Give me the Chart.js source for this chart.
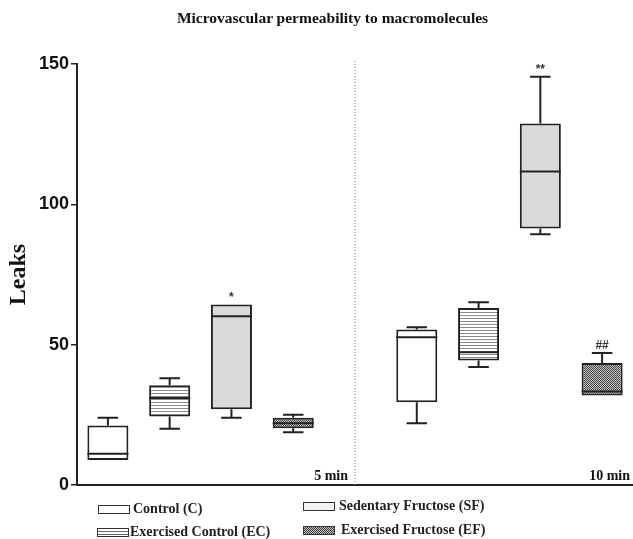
<!DOCTYPE html>
<html>
<head>
<meta charset="utf-8">
<script src="https://cdn.jsdelivr.net/npm/chart.js@4.4.0/dist/chart.umd.min.js"></script>
<style>
  html, body { margin: 0; padding: 0; background: #fff; }
  #wrap { position: relative; width: 633px; height: 539px; }
  #wrap canvas { position: absolute; left: 0; top: 0; }
  .title { position: absolute; left: 0; top: 9px; width: 665px; text-align: center;
           font: bold 15.5px 'Liberation Serif', 'Times New Roman', serif; color: #111; }
  .leg { position: absolute; display: flex; align-items: center; white-space: nowrap;
         font: bold 14px 'Liberation Serif', 'Times New Roman', serif; color: #222; height: 16px; }
  .sw { display: inline-block; width: 30px; height: 7px; border: 1px solid #333; box-sizing: content-box; }
</style>
</head>
<body>
<div id="wrap">
  <canvas id="chart" width="633" height="539"></canvas>
  <div class="title">Microvascular permeability to macromolecules</div>
  <div id="legend"></div>
</div>
<script>
// groups: 5 min, 10 min
const groups = ['5 min', '10 min'];
const categories = ['C 5', 'EC 5', 'SF 5', 'EF 5', '', 'C 10', 'EC 10', 'SF 10', 'EF 10'];
const yTicks = [0, 50, 100, 150];

// Control (C)
const cMin = [8.9, 22.0];
const cQ1 = [8.9, 29.5];
const cMed = [11.1, 52.6];
const cQ3 = [21.2, 55.4];
const cMax = [24.0, 56.2];

// Exercised Control (EC)
const ecMin = [20.0, 42.0];
const ecQ1 = [24.4, 44.4];
const ecMed = [31.0, 47.3];
const ecQ3 = [35.5, 63.1];
const ecMax = [38.0, 65.1];

// Sedentary Fructose (SF)
const sfMin = [24.0, 89.3];
const sfQ1 = [27.0, 91.4];
const sfMed = [60.1, 111.7];
const sfQ3 = [64.3, 128.8];
const sfMax = [64.3, 145.5];
const sfMarks = ['*', '**'];

// Exercised Fructose (EF)
const efMin = [18.8, 31.9];
const efQ1 = [20.2, 31.9];
const efMed = [22.0, 33.3];
const efQ3 = [24.0, 43.5];
const efMax = [25.0, 47.0];
const efMarks = ['', '##'];

// series s in group g sits in slot g*5 + s (slot 4 is the gap)
function expand(arr, s) {
  const out = categories.map(() => null);
  arr.forEach((v, g) => { out[g * 5 + s] = v; });
  return out;
}
function floating(q1, q3, s) {
  const out = categories.map(() => null);
  q1.forEach((v, g) => { out[g * 5 + s] = [v, q3[g]]; });
  return out;
}

function makePattern(w, h, draw) {
  const c = document.createElement('canvas');
  c.width = w; c.height = h;
  const g = c.getContext('2d');
  draw(g);
  return g.createPattern(c, 'repeat');
}
const stripes = makePattern(4, 3, g => {
  g.fillStyle = '#fff'; g.fillRect(0, 0, 4, 3);
  g.fillStyle = '#8a8a8a'; g.fillRect(0, 0, 4, 1);
});
const dots = makePattern(2, 2, g => {
  g.fillStyle = '#c0c0c0'; g.fillRect(0, 0, 2, 2);
  g.fillStyle = '#4a4a4a'; g.fillRect(0, 0, 1, 1); g.fillRect(1, 1, 1, 1);
});

function series(label, s, fill, mn, q1, med, q3, mx, marks) {
  return {
    label: label,
    data: floating(q1, q3, s),
    backgroundColor: fill,
    borderColor: '#222',
    borderWidth: 2,
    borderSkipped: false,
    grouped: false,
    barPercentage: 0.664,
    categoryPercentage: 1,
    box: {
      min: expand(mn, s),
      med: expand(med, s),
      max: expand(mx, s),
      marks: marks ? expand(marks, s) : null
    }
  };
}

// whiskers, medians, marks, separator and group labels
const boxExtras = {
  id: 'boxExtras',
  afterDatasetsDraw(chart) {
    const { ctx, chartArea, scales: { x, y } } = chart;
    ctx.save();
    ctx.strokeStyle = '#222';
    ctx.lineWidth = 2;
    chart.data.datasets.forEach((ds, di) => {
      const meta = chart.getDatasetMeta(di);
      meta.data.forEach((bar, i) => {
        const r = ds.data[i];
        if (!r) return;
        const half = bar.width / 2;
        const cap = half / 2;
        const yMed = y.getPixelForValue(ds.box.med[i]);
        const yQ1 = y.getPixelForValue(r[0]);
        const yQ3 = y.getPixelForValue(r[1]);
        const yMin = y.getPixelForValue(ds.box.min[i]);
        const yMax = y.getPixelForValue(ds.box.max[i]);
        ctx.beginPath();
        ctx.moveTo(bar.x - half, yMed); ctx.lineTo(bar.x + half, yMed);
        if (yMax < yQ3 - 0.5) {
          ctx.moveTo(bar.x, yQ3); ctx.lineTo(bar.x, yMax);
          ctx.moveTo(bar.x - cap, yMax); ctx.lineTo(bar.x + cap, yMax);
        }
        if (yMin > yQ1 + 0.5) {
          ctx.moveTo(bar.x, yQ1); ctx.lineTo(bar.x, yMin);
          ctx.moveTo(bar.x - cap, yMin); ctx.lineTo(bar.x + cap, yMin);
        }
        ctx.stroke();
        const m = ds.box.marks && ds.box.marks[i];
        if (m) {
          ctx.fillStyle = '#333';
          ctx.font = 'bold 12px "Liberation Sans", Arial, sans-serif';
          ctx.textAlign = 'center';
          ctx.textBaseline = 'bottom';
          ctx.fillText(m, bar.x, yMax - 1);
        }
      });
    });

    const sepX = x.getPixelForValue(4);
    ctx.strokeStyle = '#777';
    ctx.lineWidth = 1;
    ctx.setLineDash([1, 2]);
    ctx.beginPath();
    ctx.moveTo(sepX, chartArea.top - 3);
    ctx.lineTo(sepX, chartArea.bottom);
    ctx.stroke();
    ctx.setLineDash([]);

    ctx.fillStyle = '#111';
    ctx.font = 'bold 14px "Liberation Serif", "Times New Roman", serif';
    ctx.textAlign = 'right';
    ctx.textBaseline = 'alphabetic';
    ctx.fillText(groups[0], sepX - 7, chartArea.bottom - 5);
    ctx.fillText(groups[1], chartArea.right - 3, chartArea.bottom - 5);
    ctx.restore();
  }
};

const datasets = [
  series('Control (C)', 0, '#ffffff', cMin, cQ1, cMed, cQ3, cMax, null),
  series('Exercised Control (EC)', 1, stripes, ecMin, ecQ1, ecMed, ecQ3, ecMax, null),
  series('Sedentary Fructose (SF)', 2, '#dadada', sfMin, sfQ1, sfMed, sfQ3, sfMax, sfMarks),
  series('Exercised Fructose (EF)', 3, dots, efMin, efQ1, efMed, efQ3, efMax, efMarks)
];

new Chart(document.getElementById('chart'), {
  type: 'bar',
  data: { labels: categories, datasets: datasets },
  options: {
    responsive: false,
    animation: false,
    events: [],
    layout: { padding: { top: 64, right: 0, bottom: 54, left: 0 } },
    plugins: { legend: { display: false }, tooltip: { enabled: false } },
    scales: {
      x: {
        offset: true,
        ticks: { display: false },
        grid: { display: false, drawTicks: false },
        border: { display: true, color: '#222', width: 2 },
        afterFit: s => { s.height = 0; }
      },
      y: {
        min: 0,
        max: 150,
        afterBuildTicks: s => { s.ticks = yTicks.map(v => ({ value: v })); },
        ticks: {
          color: '#111',
          padding: 2,
          font: { family: '"Liberation Sans", Arial, sans-serif', weight: 'bold', size: 18 }
        },
        grid: { drawOnChartArea: false, drawTicks: true, tickLength: 6, color: '#222', lineWidth: 1.5 },
        border: { display: true, color: '#222', width: 2 },
        title: {
          display: true,
          text: 'Leaks',
          color: '#111',
          padding: { top: 4, bottom: 0 },
          font: { family: '"Liberation Serif", "Times New Roman", serif', weight: 'bold', size: 24 }
        },
        afterFit: s => { s.width = 77; }
      }
    }
  },
  plugins: [boxExtras]
});

// legend in two rows, as in the figure
const legendItems = [
  { i: 0, left: 98, top: 501, gap: 3, bg: '#fff' },
  { i: 2, left: 303, top: 498, gap: 4, bg: '#f3f3f3' },
  { i: 1, left: 97, top: 524, gap: 1, bg: 'repeating-linear-gradient(to bottom, #fff 0 2px, #666 2px 3px)' },
  { i: 3, left: 303, top: 522, gap: 6, bg: 'repeating-conic-gradient(#444 0 25%, #bbb 0 50%) 0 0 / 2px 2px' }
];
const legendEl = document.getElementById('legend');
legendItems.forEach(it => {
  const d = document.createElement('div');
  d.className = 'leg';
  d.style.left = it.left + 'px';
  d.style.top = it.top + 'px';
  const sw = document.createElement('span');
  sw.className = 'sw';
  sw.style.background = it.bg;
  sw.style.marginRight = it.gap + 'px';
  const t = document.createElement('span');
  t.textContent = datasets[it.i].label;
  d.appendChild(sw);
  d.appendChild(t);
  legendEl.appendChild(d);
});
</script>
</body>
</html>
